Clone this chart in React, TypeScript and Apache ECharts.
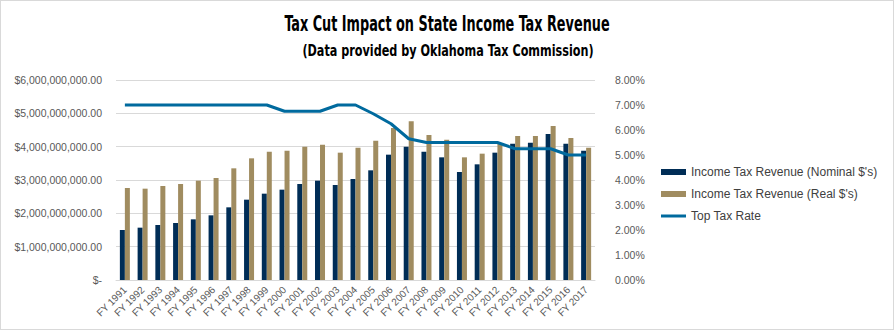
import React, { useEffect, useRef } from "react";
import * as echarts from "echarts";

const years = [
  "FY 1991", "FY 1992", "FY 1993", "FY 1994", "FY 1995", "FY 1996", "FY 1997",
  "FY 1998", "FY 1999", "FY 2000", "FY 2001", "FY 2002", "FY 2003", "FY 2004",
  "FY 2005", "FY 2006", "FY 2007", "FY 2008", "FY 2009", "FY 2010", "FY 2011",
  "FY 2012", "FY 2013", "FY 2014", "FY 2015", "FY 2016", "FY 2017",
];

const nominalRevenue = [
  1.50e9, 1.57e9, 1.65e9, 1.71e9, 1.82e9, 1.94e9, 2.18e9, 2.41e9, 2.59e9,
  2.71e9, 2.88e9, 2.98e9, 2.85e9, 3.03e9, 3.29e9, 3.76e9, 4.00e9, 3.85e9,
  3.68e9, 3.24e9, 3.47e9, 3.82e9, 4.09e9, 4.12e9, 4.38e9, 4.09e9, 3.88e9,
];

const realRevenue = [
  2.76e9, 2.74e9, 2.82e9, 2.88e9, 2.98e9, 3.06e9, 3.35e9, 3.65e9, 3.85e9,
  3.88e9, 4.00e9, 4.06e9, 3.82e9, 3.97e9, 4.18e9, 4.56e9, 4.76e9, 4.35e9,
  4.21e9, 3.68e9, 3.79e9, 4.10e9, 4.32e9, 4.32e9, 4.62e9, 4.26e9, 3.97e9,
];

const topTaxRate = [
  7.0, 7.0, 7.0, 7.0, 7.0, 7.0, 7.0, 7.0, 7.0,
  6.75, 6.75, 6.75, 7.0, 7.0, 6.65, 6.25, 5.65, 5.5,
  5.5, 5.5, 5.5, 5.5, 5.25, 5.25, 5.25, 5.0, 5.0,
];

const seriesNames = [
  "Income Tax Revenue (Nominal $'s)",
  "Income Tax Revenue (Real $'s)",
  "Top Tax Rate",
];

const titleText = "Tax Cut Impact on State Income Tax Revenue";
const subtitleText = "(Data provided by Oklahoma Tax Commission)";

const FONT = "'Liberation Sans', 'DejaVu Sans', sans-serif";
const TITLE_FONT = "'Liberation Sans Narrow', 'DejaVu Sans Condensed', 'Liberation Sans', sans-serif";

function formatDollars(v: number): string {
  if (v === 0) return "$-";
  return "$" + v.toLocaleString("en-US", { minimumFractionDigits: 2, maximumFractionDigits: 2 });
}

export default function App() {
  const ref = useRef<HTMLDivElement>(null);

  useEffect(() => {
    document.body.style.margin = "0";
    if (!ref.current) return;
    const chart = echarts.init(ref.current, undefined, { renderer: "svg" });
    chart.setOption({
      animation: false,
      backgroundColor: "#ffffff",
      graphic: [
        {
          type: "text",
          x: 446,
          y: 12,
          scaleX: 0.68,
          style: {
            text: titleText,
            font: "bold 21px " + TITLE_FONT,
            fill: "#000000",
            textAlign: "center",
            textVerticalAlign: "top",
          },
        },
        {
          type: "text",
          x: 447,
          y: 41,
          scaleX: 0.78,
          style: {
            text: subtitleText,
            font: "bold 16px " + TITLE_FONT,
            fill: "#000000",
            textAlign: "center",
            textVerticalAlign: "top",
          },
        },
      ],
      grid: { left: 115, right: 298, top: 79, bottom: 49, containLabel: false },
      legend: {
        orient: "vertical",
        left: 655,
        top: 160,
        itemWidth: 25,
        itemHeight: 6,
        itemGap: 10,
        textStyle: { fontFamily: FONT, fontSize: 12, color: "#404040" },
        data: [
          { name: seriesNames[0], icon: "rect" },
          { name: seriesNames[1], icon: "rect" },
          { name: seriesNames[2], icon: "path://M0 0H25V3H0Z" },
        ],
      },
      xAxis: {
        type: "category",
        data: years,
        axisLine: { lineStyle: { color: "#d9d9d9", width: 1 } },
        axisTick: { show: false },
        axisLabel: {
          interval: 0,
          rotate: 45,
          fontFamily: FONT,
          fontSize: 10,
          color: "#595959",
          margin: 8,
        },
      },
      yAxis: [
        {
          type: "value",
          min: 0,
          max: 6e9,
          interval: 1e9,
          axisLine: { show: false },
          axisTick: { show: false },
          splitLine: { lineStyle: { color: "#d9d9d9", width: 1 } },
          axisLabel: {
            formatter: formatDollars,
            fontFamily: FONT,
            fontSize: 10.5,
            color: "#595959",
            margin: 14,
          },
        },
        {
          type: "value",
          min: 0,
          max: 8,
          interval: 1,
          position: "right",
          axisLine: { show: false },
          axisTick: { show: false },
          splitLine: { show: false },
          axisLabel: {
            formatter: (v: number) => v.toFixed(2) + "%",
            fontFamily: FONT,
            fontSize: 10.5,
            color: "#595959",
            margin: 20,
          },
        },
      ],
      series: [
        {
          name: seriesNames[0],
          type: "bar",
          data: nominalRevenue,
          barWidth: 5,
          barGap: "0%",
          itemStyle: { color: "#002D56" },
        },
        {
          name: seriesNames[1],
          type: "bar",
          data: realRevenue,
          barWidth: 5,
          barGap: "0%",
          itemStyle: { color: "#A08C60" },
        },
        {
          name: seriesNames[2],
          type: "line",
          yAxisIndex: 1,
          data: topTaxRate,
          symbol: "none",
          lineStyle: { color: "#006A9E", width: 3 },
          itemStyle: { color: "#006A9E" },
          z: 5,
        },
      ],
    });
    return () => chart.dispose();
  }, []);

  return (
    <div
      ref={ref}
      style={{
        width: 894,
        height: 330,
        boxSizing: "border-box",
        border: "1px solid #d9d9d9",
      }}
    />
  );
}
